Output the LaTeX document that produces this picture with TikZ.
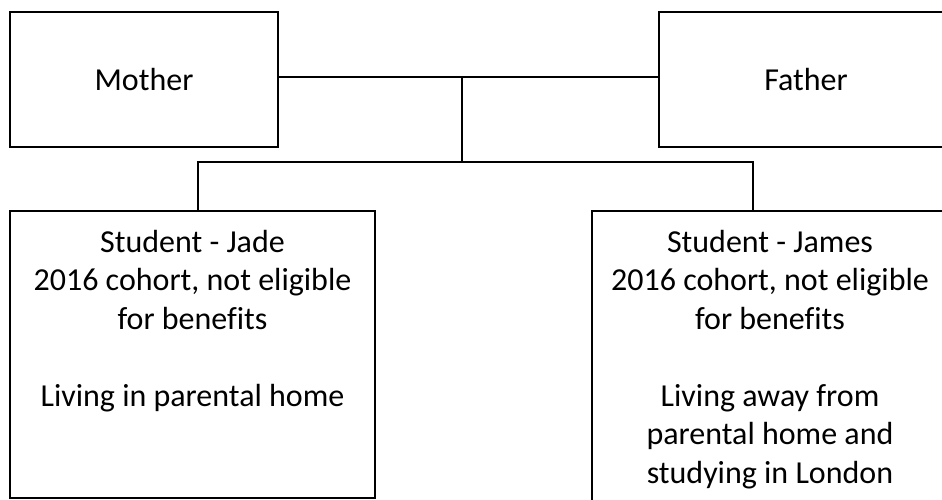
\documentclass[tikz,border=0pt]{standalone}
\usepackage{fontspec}
\setmainfont{Carlito}[Ligatures=NoCommon]
\begin{document}
\begin{tikzpicture}[x=1pt,y=-1pt,
  box/.style={draw=black,line width=2pt,inner sep=0pt,anchor=north west},
  txt/.style={inner sep=0pt,align=center,font=\fontsize{32}{38.5}\selectfont},
  conn/.style={draw=black,line width=1.3pt}]
\useasboundingbox (0,0) rectangle (942,499);
\clip (0,0) rectangle (942,499);
\fill[white] (0,0) rectangle (942,499);
\node[box,minimum width=268pt,minimum height=135pt] (mother) at (9,11) {};
\node[box,minimum width=294pt,minimum height=135pt] (father) at (658,11) {};
\node[box,minimum width=365pt,minimum height=287pt] (jade) at (9,210) {};
\node[box,minimum width=356pt,minimum height=320pt] (james) at (591,210) {};
\node[txt] (mothert) at (mother.center) {Mother};
\node[txt] (fathert) at (father.center) {Father};
\node[txt,anchor=north] (jadet) at ([yshift=-20pt]jade.north) {Student - Jade\\2016 cohort, not eligible\\for benefits\\[38.5pt]Living in parental home};
\node[txt,anchor=north] (jamest) at ([yshift=-20pt]james.north) {Student - James\\2016 cohort, not eligible\\for benefits\\[38.5pt]Living away from\\parental home and\\studying in London};
\coordinate (mid) at (462,77);
\coordinate (bar) at (462,162);
\coordinate (jl) at (198,162);
\coordinate (jr) at (753,162);
\draw[conn] (mother.east |- mid) -- (father.west |- mid);
\draw[conn] (mid) -- (bar);
\draw[conn] (jl |- jade.north) -- (jl) -- (jr) -- (jr |- james.north);
\end{tikzpicture}
\end{document}
